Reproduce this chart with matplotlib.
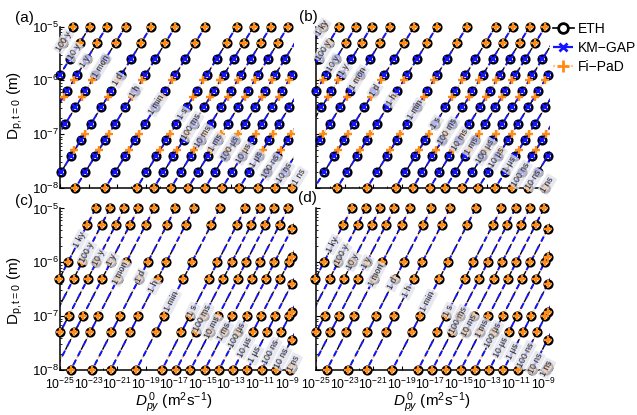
import numpy as np
import matplotlib.pyplot as plt
from matplotlib.lines import Line2D
from matplotlib.ticker import NullFormatter, LogLocator

plt.rcParams['font.family'] = ['Liberation Sans', 'DejaVu Sans']
plt.rcParams['mathtext.fontset'] = 'custom'
plt.rcParams['mathtext.rm'] = 'Liberation Sans'
plt.rcParams['mathtext.it'] = 'Liberation Sans:italic'
plt.rcParams['mathtext.bf'] = 'Liberation Sans:bold'

# labels of the equal-time lines
times_a = ['100 y', '10 y', '1 y', '1 mon', '1 d', '1 h', '1 min', '1 s', '100 ms', '10 ms',
           '1 ms', '100 µs', '10 µs', '1 µs', '100 ns', '10 ns', '1 ns']
times_b = ['1 ky'] + times_a
times_cd = ['1 ky'] + times_a

# log10(D) where each line meets Dp = 1e-5 m
top_a = [-24.1, -22.9, -21.7, -20.4, -18.6, -16.9, -14.8, -12.6, -11.4, -10.2,
         -9.0, -7.8, -6.6, -5.4, -4.1, -2.9, -1.7]
top_b = [-24.5, -23.4, -22.2, -21.1, -19.8, -18.1, -16.5, -14.4, -12.4, -11.2,
         -10.0, -8.9, -7.7, -6.6, -5.4, -4.2, -3.1, -1.9]
top_cd = [-22.5, -21.5, -20.5, -19.5, -18.4, -16.9, -15.6, -13.8, -12.0, -11.0,
          -10.0, -9.0, -8.0, -7.0, -6.0, -5.0, -4.0, -3.0]

# log10(Dp) where the line labels sit
lab_a = [-5.28, -5.47, -5.65, -5.74, -5.99, -6.21, -6.45, -6.62, -6.86, -7.04,
         -7.16, -7.26, -7.35, -7.47, -7.6, -7.72, -7.79]
lab_b = [-5.03, -5.44, -5.68, -5.81, -5.96, -6.18, -6.36, -6.55, -6.79, -6.95,
         -7.1, -7.22, -7.32, -7.44, -7.56, -7.75, -7.84, -7.93]
lab_c = [-5.58, -5.82, -5.92, -5.95, -6.2, -6.26, -6.45, -6.73, -6.89, -7.04,
         -7.2, -7.29, -7.35, -7.57, -7.72, -7.66, -7.78, -7.87]
lab_d = [-5.67, -5.86, -5.98, -6.01, -6.23, -6.39, -6.54, -6.73, -6.89, -7.07,
         -7.17, -7.23, -7.35, -7.57, -7.66, -7.72, -7.88, -7.97]

# slope of the lines: d log10(D) / d log10(Dp)
slope_ab = 2.34
slope_cd = 1.95

# particle diameters of the model runs (m)
dp_eth_ab = [1e-5, 5e-6, 2.5e-6, 1.25e-6, 6.25e-7, 3.13e-7, 1.56e-7, 7.8e-8, 3.9e-8, 1.95e-8, 1e-8]
dp_km_ab = [2.5e-6, 1.25e-6, 6.25e-7, 3.13e-7, 1.56e-7, 7.8e-8, 3.9e-8, 1.95e-8]
dp_fi = [1e-5, 5e-6, 1e-6, 5e-7, 1e-7, 5e-8, 1e-8]
# largest bulk diffusivity in runs c, d (log10)
d_edge_cd = -8.75

c_eth = 'black'
c_km = '#1414ff'
c_fi = '#ff8a14'
c_fi_line = '#ffc890'

xmin, xmax = -25.0, -8.6


def line_logd(top, slope, logdp):
    return top + slope * (np.asarray(logdp) + 5)


def points(tops, slope, dps):
    xs, ys = [], []
    for t in tops:
        for dp in dps:
            ld = line_logd(t, slope, np.log10(dp))
            if xmin - 0.05 <= ld <= xmax:
                xs.append(10 ** ld)
                ys.append(dp)
    return xs, ys


def edge_points(tops, slope, ld_edge):
    xs, ys = [], []
    for t in tops:
        ldp = -5 + (ld_edge - t) / slope
        if -8 <= ldp <= -5.2:
            xs.append(10 ** ld_edge)
            ys.append(10 ** ldp)
    return xs, ys


def draw_panel(ax, tops, slope, labs, names, eth_dp, km_dp, fi_dp, edge=None):
    ax.set_xscale('log')
    ax.set_yscale('log')
    ax.set_xlim(10 ** xmin, 10 ** xmax)
    ax.set_ylim(1e-8, 1e-5)
    ldp = np.array([-8.0, -5.0])
    for t in tops:
        x = 10 ** line_logd(t, slope, ldp)
        y = 10 ** ldp
        ax.plot(x, y, ls=':', color=c_fi_line, lw=1.2, zorder=2)
        ax.plot(x, y, ls=(0, (3, 2.5)), color=c_eth, lw=1.0, zorder=2)
        ax.plot(x, y, ls=(2.75, (3, 2.5)), color=c_km, lw=1.4, zorder=2)

    xs, ys = points(tops, slope, eth_dp)
    if edge is not None:
        ex, ey = edge_points(tops, slope, edge)
        xs += ex
        ys += ey
    ax.plot(xs, ys, 'o', ms=5.5, mfc='white', mec=c_eth, mew=1.8, clip_on=False, zorder=3)
    if km_dp:
        xs, ys = points(tops, slope, km_dp)
        ax.plot(xs, ys, 'x', ms=4, mec=c_km, mew=1.6, clip_on=False, zorder=4)
    xs, ys = points(tops, slope, fi_dp)
    if edge is not None:
        xs += ex
        ys += ey
    ax.plot(xs, ys, '+', ms=5.5, mec=c_fi, mew=1.7, clip_on=False, zorder=5)

    for t, l, name in zip(tops, labs, names):
        x0 = line_logd(t, slope, l)
        p1 = ax.transData.transform((10 ** x0, 10 ** l))
        p2 = ax.transData.transform((10 ** (x0 + slope * 0.3), 10 ** (l + 0.3)))
        ang = np.degrees(np.arctan2(p2[1] - p1[1], p2[0] - p1[0]))
        ax.text(10 ** x0, 10 ** l, name, rotation=ang, rotation_mode='anchor',
                ha='center', va='center', fontsize=6.3, color='#2a2a2a', zorder=6,
                clip_on=False,
                bbox=dict(boxstyle='round,pad=0.15', fc='#e2e2ec', ec='none', alpha=0.78))

    for side in ['top', 'right']:
        ax.spines[side].set_visible(False)
    ax.spines['left'].set_linewidth(1.1)
    ax.spines['bottom'].set_linewidth(1.1)
    ax.set_xticks([10.0 ** e for e in range(-25, -8, 2)])
    ax.set_xticks([10.0 ** e for e in range(-24, -8, 2)], minor=True)
    ax.xaxis.set_minor_formatter(NullFormatter())
    ax.set_yticks([1e-8, 1e-7, 1e-6, 1e-5])
    ax.yaxis.set_minor_locator(LogLocator(base=10, subs=np.arange(2, 10)))
    ax.yaxis.set_minor_formatter(NullFormatter())
    ax.tick_params(which='both', direction='in')
    ax.tick_params(which='major', length=3)
    ax.tick_params(which='minor', length=1.5)
    ax.tick_params(axis='y', pad=1, labelsize=9.5)
    ax.tick_params(axis='x', pad=5, labelsize=8.8)


fig = plt.figure(figsize=(6.37, 4.15), dpi=100)
W, H = 637.0, 415.0
aw = 233.7 / W
ah = 161.5 / H
ax_a = fig.add_axes([60 / W, 1 - 188 / H, aw, ah])
ax_b = fig.add_axes([316 / W, 1 - 188 / H, aw, ah])
ax_c = fig.add_axes([60 / W, 1 - 370 / H, aw, ah])
ax_d = fig.add_axes([316 / W, 1 - 370 / H, aw, ah])

draw_panel(ax_a, top_a, slope_ab, lab_a, times_a, dp_eth_ab, dp_km_ab, dp_fi)
draw_panel(ax_b, top_b, slope_ab, lab_b, times_b, dp_eth_ab, dp_km_ab, dp_fi)
draw_panel(ax_c, top_cd, slope_cd, lab_c, times_cd, dp_fi, [], dp_fi, edge=d_edge_cd)
draw_panel(ax_d, top_cd, slope_cd, lab_d, times_cd, dp_fi, [], dp_fi, edge=d_edge_cd)

for ax in [ax_a, ax_b]:
    ax.tick_params(labelbottom=False)
for ax in [ax_b, ax_d]:
    ax.tick_params(labelleft=False)

ylab = r'$\mathrm{D_{p,t=0}}$ (m)'
fig.text(15 / W, 1 - 105 / H, ylab, rotation=90, ha='center', va='center', fontsize=11)
fig.text(15 / W, 1 - 290 / H, ylab, rotation=90, ha='center', va='center', fontsize=11)
xlab = r'$D^{\,0}_{py}$ (m$^2$s$^{-1}$)'
fig.text(174 / W, 1 - 403 / H, xlab, ha='center', va='center', fontsize=11)
fig.text(432 / W, 1 - 403 / H, xlab, ha='center', va='center', fontsize=11)

for lab, (px, py) in zip(['(a)', '(b)', '(c)', '(d)'],
                         [(24, 18), (308, 17), (24, 201), (307, 198)]):
    fig.text(px / W, 1 - py / H, lab, ha='center', va='center', fontsize=11)

handles = [
    Line2D([], [], color=c_eth, lw=1.2, marker='o', ms=7, mfc='white', mec=c_eth, mew=2),
    Line2D([], [], color=c_km, ls='--', lw=1.6, marker='x', ms=6, mec=c_km, mew=2),
    Line2D([], [], color=c_fi_line, ls=':', lw=1.6, marker='+', ms=8, mec=c_fi, mew=2),
]
fig.legend(handles, ['ETH', 'KM\u2212GAP', 'Fi\u2212PaD'], loc='upper left',
           bbox_to_anchor=(553 / W, 1 - 22 / H), frameon=False, fontsize=10,
           handlelength=1.5, handletextpad=0.3, labelspacing=0.35, borderaxespad=0,
           borderpad=0)

fig.savefig('out.png', dpi=100)
